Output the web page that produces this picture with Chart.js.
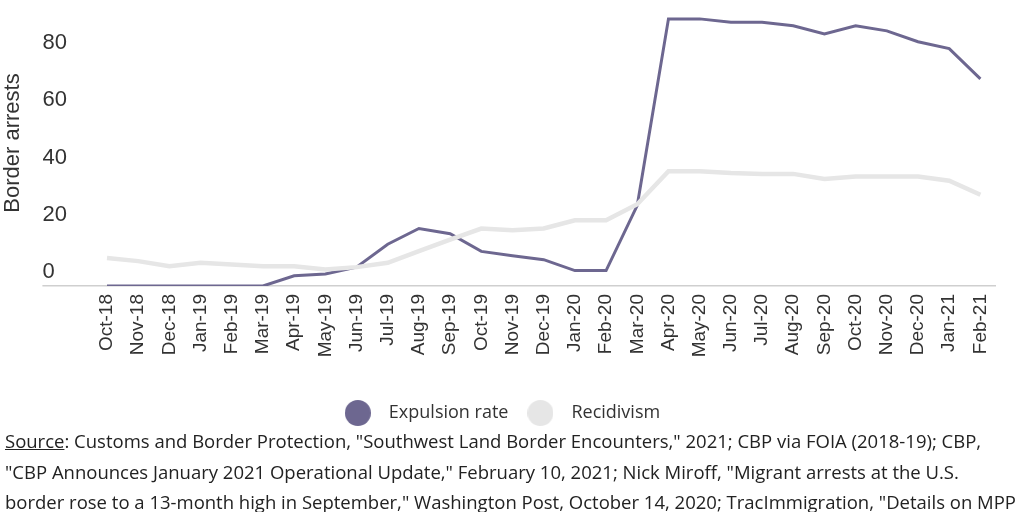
<!DOCTYPE html>
<html>
<head>
<meta charset="utf-8">
<script src="https://cdn.jsdelivr.net/npm/chart.js@4.4.1/dist/chart.umd.min.js"></script>
<style>
  html, body { margin: 0; padding: 0; background: #fff; overflow: hidden; }
  #wrap { position: absolute; left: 0; top: 0; width: 1024px; height: 432px; }
  #source {
    position: absolute; left: 5px; top: 426px; width: 1019px;
    font-family: "Open Sans", "Liberation Sans", sans-serif; font-size: 18.5px;
    line-height: 30.5px; color: #222; white-space: nowrap;
  }
  #source u { text-decoration: underline; }
</style>
</head>
<body>
<div id="wrap"><canvas id="myChart"></canvas></div>
<div id="source"><u>Source</u>: Customs and Border Protection, "Southwest Land Border Encounters," 2021; CBP via FOIA (2018-19); CBP,<br>"CBP Announces January 2021 Operational Update," February 10, 2021; Nick Miroff, "Migrant arrests at the U.S.<br>border rose to a 13-month high in September," Washington Post, October 14, 2020; TracImmigration, "Details on MPP</div>
<script>
  // months on the x axis
  const months = [
    "Oct-18", "Nov-18", "Dec-18",
    "Jan-19", "Feb-19", "Mar-19", "Apr-19", "May-19", "Jun-19",
    "Jul-19", "Aug-19", "Sep-19", "Oct-19", "Nov-19", "Dec-19",
    "Jan-20", "Feb-20", "Mar-20", "Apr-20", "May-20", "Jun-20",
    "Jul-20", "Aug-20", "Sep-20", "Oct-20", "Nov-20", "Dec-20",
    "Jan-21", "Feb-21",
  ];

  // values
  const expulsionRate = [
    0, 0, 0, 0, 0, 0, 3.6, 4.2, 6.6, 14.6, 20.1, 18.3, 12.1, 10.6, 9.2,
    5.4, 5.4, 28.2, 93.4, 93.4, 92.2, 92.2, 91, 88.1, 91, 89.2, 85.4, 83, 72.4,
  ];
  const recidivism = [
    9.8, 8.7, 6.9, 8.1, 7.5, 6.9, 6.9, 5.8, 6.6, 8.1, 12.2, 16.2, 20.1, 19.5, 20.1,
    23.0, 23.0, 28.6, 40.1, 40.1, 39.5, 39.2, 39.2, 37.4, 38.3, 38.3, 38.3, 36.8, 31.9,
  ];

  const purple = "#6d6790";
  const grey = "#e6e6e6";
  const axisFont = "'Liberation Sans', Arial, sans-serif";
  const noteFont = "'Open Sans', 'Liberation Sans', sans-serif";

  // big round legend markers
  function makeDot(color) {
    const c = document.createElement("canvas");
    c.width = 26;
    c.height = 26;
    const g = c.getContext("2d");
    g.fillStyle = color;
    g.beginPath();
    g.arc(13, 13, 13, 0, Math.PI * 2);
    g.fill();
    return c;
  }
  const dots = [makeDot(purple), makeDot(grey)];

  const ctx = document.getElementById("myChart").getContext("2d");
  const chart = new Chart(ctx, {
    type: "line",
    data: {
      labels: months,
      datasets: [
        {
          label: "Expulsion rate",
          data: expulsionRate,
          borderColor: purple,
          backgroundColor: purple,
          borderWidth: 3,
          pointRadius: 0,
          tension: 0,
          order: 1,
        },
        {
          label: "Recidivism",
          data: recidivism,
          borderColor: grey,
          backgroundColor: grey,
          borderWidth: 4.5,
          pointRadius: 0,
          tension: 0,
          order: 0,
        },
      ],
    },
    options: {
      responsive: true,
      maintainAspectRatio: false,
      animation: false,
      layout: { padding: { left: 0, right: 28, top: 0, bottom: 0 } },
      plugins: {
        tooltip: { enabled: false },
        legend: {
          position: "bottom",
          labels: {
            usePointStyle: true,
            pointStyleWidth: 44,
            padding: 10,
            color: "#333",
            font: { family: noteFont, size: 18 },
            sort: (a, b) => a.datasetIndex - b.datasetIndex,
            generateLabels: (chart) => {
              const items = Chart.defaults.plugins.legend.labels.generateLabels(chart);
              items.forEach((item) => {
                item.pointStyle = dots[item.datasetIndex];
              });
              return items;
            },
          },
        },
      },
      scales: {
        x: {
          offset: true,
          grid: { display: false, drawTicks: false },
          border: { display: false },
          ticks: {
            autoSkip: false,
            maxRotation: 90,
            minRotation: 90,
            padding: 8,
            color: "#333",
            font: { family: axisFont, size: 19 },
          },
          afterFit: (scale) => {
            scale.height = 108;
          },
        },
        y: {
          min: 0,
          max: 100,
          border: { display: false },
          grid: {
            color: (c) => (c.tick && c.tick.value === 0 ? "#cfcfcf" : "rgba(0,0,0,0)"),
            lineWidth: 1.5,
            drawTicks: true,
            tickLength: 49,
          },
          ticks: {
            stepSize: 20,
            mirror: true,
            padding: -49,
            labelOffset: -14,
            color: "#333",
            font: { family: axisFont, size: 22 },
            callback: (v) => (v > 80 ? "" : v),
          },
          title: {
            display: true,
            text: "Border arrests",
            color: "#333",
            font: { family: axisFont, size: 22 },
            padding: { top: 0, bottom: 16 },
          },
          afterFit: (scale) => {
            scale.width = 91.4;
            scale.paddingTop = 0;
            scale.paddingBottom = 0;
          },
        },
      },
    },
  });
</script>
</body>
</html>
